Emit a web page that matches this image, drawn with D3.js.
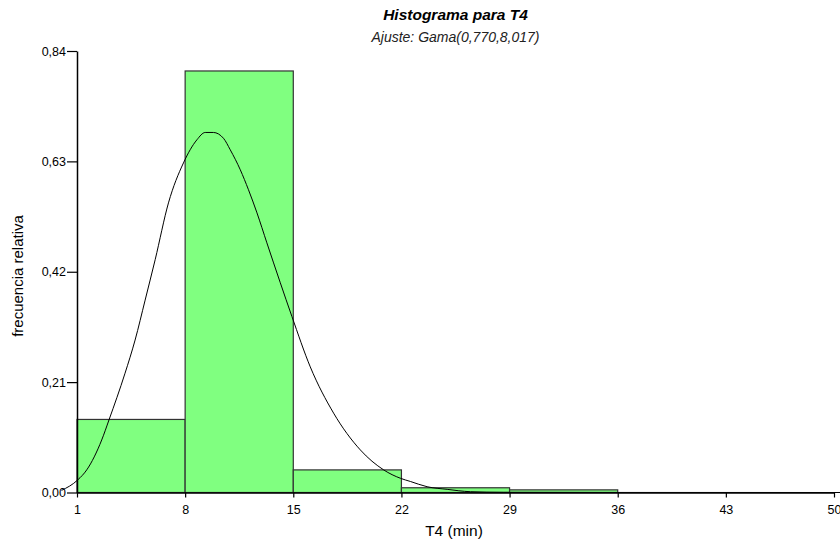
<!DOCTYPE html>
<html>
<head>
<meta charset="utf-8">
<script src="https://cdn.jsdelivr.net/npm/d3@7"></script>
<style>
  html, body { margin: 0; padding: 0; background: #fff; }
  svg { display: block; font-family: Arial, "Liberation Sans", sans-serif; }
</style>
</head>
<body>
<svg id="chart" width="840" height="542"></svg>
<script>
// ---- data ----
const title = "Histograma para T4";
const subtitle = "Ajuste: Gama(0,770,8,017)";
const xLabel = "T4 (min)";
const yLabel = "frecuencia relativa";

const binStarts = [1, 8, 15, 22, 29, 36, 43];
const binEnds   = [8, 15, 22, 29, 36, 43, 50];
const binFreq   = [0.139, 0.802, 0.043, 0.009, 0.005, 0, 0];

const fitX = [0, 1.05, 1.63, 2.6, 3.07, 4.11, 4.76, 5.41, 6.06, 6.92, 7.89, 8.76, 9.3, 9.83, 10.48, 10.92, 11.57, 12.1, 12.65, 13.29, 14.16, 14.91, 16.1, 17.61, 19.34, 20.85, 21.94, 22.58, 23.66, 24.96, 26.47, 28.6, 35, 50.4];
const fitY = [0.004, 0.024, 0.043, 0.1, 0.138, 0.227, 0.29, 0.366, 0.443, 0.551, 0.627, 0.671, 0.685, 0.685, 0.674, 0.652, 0.614, 0.576, 0.532, 0.475, 0.399, 0.335, 0.239, 0.151, 0.081, 0.043, 0.027, 0.021, 0.011, 0.006, 0.0015, 0.0004, 0.0001, 0];

const xTicks = [1, 8, 15, 22, 29, 36, 43, 50];
const yTicks = [0, 0.21, 0.42, 0.63, 0.84];

// ---- layout ----
const svg = d3.select("#chart");
const mLeft = 77, mRight = 834, mTop = 51, mBottom = 492.5;

const x = d3.scaleLinear().domain([1, 50]).range([mLeft, mRight]);
const y = d3.scaleLinear().domain([0, 0.84]).range([mBottom, mTop]);

const fmt = v => d3.format(".2f")(v).replace(".", ",");

// bars
const bins = binStarts.map((s, i) => ({ s, e: binEnds[i], f: binFreq[i] }));
svg.append("g").selectAll("rect").data(bins).join("rect")
  .attr("x", d => x(d.s))
  .attr("y", d => y(d.f))
  .attr("width", d => x(d.e) - x(d.s))
  .attr("height", d => y(0) - y(d.f))
  .attr("fill", "#80ff80")
  .attr("stroke", "#333")
  .attr("stroke-width", 1.2);

// fitted curve
const pts = fitX.map((v, i) => [v, fitY[i]]);
svg.append("path")
  .datum(pts)
  .attr("d", d3.line().x(d => x(d[0])).y(d => y(d[1])).curve(d3.curveMonotoneX))
  .attr("fill", "none")
  .attr("stroke", "#000")
  .attr("stroke-width", 1);

// axes
const xAxis = svg.append("g")
  .attr("transform", `translate(0,${mBottom})`)
  .call(d3.axisBottom(x).tickValues(xTicks).tickSize(5).tickSizeOuter(0).tickFormat(d3.format("d")));
const yAxis = svg.append("g")
  .attr("transform", `translate(${mLeft},0)`)
  .call(d3.axisLeft(y).tickValues(yTicks).tickSize(10).tickSizeOuter(0).tickFormat(fmt));

[xAxis, yAxis].forEach(g => {
  g.selectAll("path.domain").attr("stroke", "#000").attr("stroke-width", 1.5);
  g.selectAll(".tick line").attr("stroke", "#000").attr("stroke-width", 1.2);
  g.selectAll(".tick text").attr("fill", "#000").style("font-size", "12.5px").style("font-family", "Arial, 'Liberation Sans', sans-serif");
});
xAxis.selectAll(".tick text").attr("dy", "1.05em");
yAxis.selectAll(".tick text").attr("x", -11);

// titles
svg.append("text")
  .attr("x", (mLeft + mRight) / 2).attr("y", 20)
  .attr("text-anchor", "middle")
  .style("font-size", "15.5px").style("font-weight", "bold").style("font-style", "italic")
  .text(title);
svg.append("text")
  .attr("x", (mLeft + mRight) / 2).attr("y", 42)
  .attr("text-anchor", "middle")
  .style("font-size", "14px").style("font-style", "italic")
  .attr("fill", "#222")
  .text(subtitle);

svg.append("text")
  .attr("x", 454).attr("y", 536)
  .attr("text-anchor", "middle")
  .style("font-size", "15.5px")
  .text(xLabel);

svg.append("text")
  .attr("transform", `translate(23,276) rotate(-90)`)
  .attr("text-anchor", "middle")
  .style("font-size", "15px")
  .text(yLabel);
</script>
</body>
</html>
